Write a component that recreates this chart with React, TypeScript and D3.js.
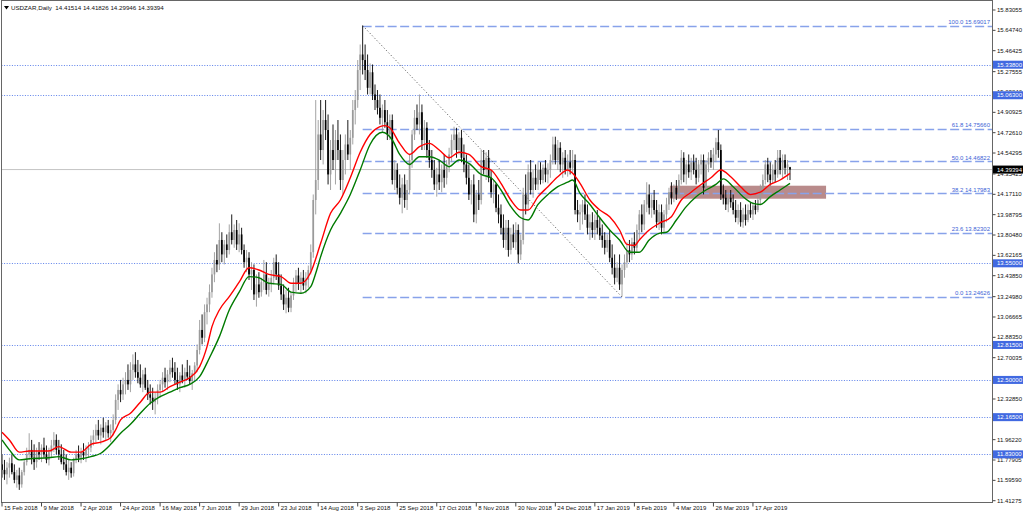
import React from 'react';
import * as d3 from 'd3';

// ---------- DATA ----------
const header = 'USDZAR,Daily  14.41514 14.41826 14.29946 14.39394';

// [open, high, low, close] per daily bar
const ohlc: [number, number, number, number][] = [
  [11.74,11.83,11.62,11.69],[11.69,11.78,11.60,11.65],[11.65,11.76,11.56,11.71],[11.71,11.80,11.62,11.75],
  [11.75,11.83,11.65,11.67],[11.67,11.74,11.57,11.60],[11.60,11.69,11.53,11.64],[11.64,11.71,11.51,11.56],
  [11.56,11.69,11.53,11.67],[11.67,11.78,11.64,11.76],[11.76,11.89,11.73,11.83],[11.83,12.02,11.78,11.87],
  [11.87,11.96,11.74,11.80],[11.80,11.92,11.69,11.76],[11.76,11.89,11.71,11.85],[11.85,11.94,11.78,11.83],
  [11.83,11.92,11.76,11.89],[11.89,11.98,11.80,11.83],[11.83,11.91,11.75,11.78],[11.78,11.89,11.73,11.85],
  [11.85,11.96,11.80,11.91],[11.91,12.03,11.85,11.96],[11.96,12.01,11.83,11.87],[11.87,11.96,11.78,11.83],
  [11.83,11.92,11.74,11.76],[11.76,11.87,11.69,11.74],[11.74,11.83,11.64,11.67],[11.67,11.78,11.60,11.71],
  [11.71,11.76,11.62,11.66],[11.66,11.80,11.63,11.78],[11.78,11.87,11.75,11.83],[11.83,11.91,11.76,11.80],
  [11.80,11.89,11.75,11.85],[11.85,11.93,11.78,11.82],[11.82,11.91,11.76,11.87],[11.87,11.94,11.80,11.89],
  [11.89,12.00,11.85,11.96],[11.96,12.05,11.91,12.00],[12.00,12.10,11.94,12.05],[12.05,12.14,11.96,12.00],
  [12.00,12.10,11.92,12.07],[12.07,12.16,11.98,12.03],[12.03,12.12,11.96,12.09],[12.09,12.14,11.98,12.02],
  [12.02,12.10,11.94,12.05],[12.05,12.19,12.00,12.14],[12.14,12.37,12.10,12.32],[12.32,12.46,12.23,12.41],
  [12.41,12.50,12.30,12.37],[12.37,12.52,12.32,12.46],[12.46,12.57,12.37,12.50],[12.50,12.64,12.41,12.46],
  [12.46,12.66,12.39,12.59],[12.59,12.73,12.50,12.64],[12.64,12.75,12.52,12.57],[12.57,12.68,12.47,12.52],
  [12.52,12.64,12.43,12.46],[12.46,12.59,12.39,12.55],[12.55,12.61,12.41,12.43],[12.43,12.50,12.32,12.37],
  [12.37,12.46,12.28,12.34],[12.34,12.43,12.23,12.30],[12.30,12.39,12.19,12.34],[12.34,12.46,12.28,12.41],
  [12.41,12.50,12.34,12.46],[12.46,12.57,12.39,12.52],[12.52,12.61,12.43,12.48],[12.48,12.59,12.41,12.55],
  [12.55,12.68,12.48,12.61],[12.61,12.70,12.52,12.57],[12.57,12.66,12.46,12.50],[12.50,12.61,12.41,12.46],
  [12.46,12.57,12.39,12.54],[12.54,12.64,12.47,12.50],[12.50,12.61,12.43,12.57],[12.57,12.68,12.50,12.53],
  [12.53,12.63,12.46,12.49],[12.49,12.59,12.41,12.56],[12.56,12.66,12.50,12.63],[12.63,12.82,12.57,12.77],
  [12.77,13.04,12.73,12.95],[12.95,13.09,12.82,12.88],[12.88,13.18,12.84,13.11],[13.11,13.24,13.00,13.18],
  [13.18,13.36,13.11,13.29],[13.29,13.51,13.24,13.45],[13.45,13.65,13.38,13.58],[13.58,13.72,13.47,13.54],
  [13.54,13.91,13.49,13.76],[13.76,13.83,13.56,13.63],[13.63,13.76,13.54,13.72],[13.72,13.81,13.60,13.67],
  [13.67,13.90,13.63,13.83],[13.83,13.99,13.72,13.76],[13.76,13.90,13.69,13.85],[13.85,13.94,13.67,13.72],
  [13.72,13.91,13.65,13.81],[13.81,13.87,13.63,13.67],[13.67,13.72,13.51,13.56],[13.56,13.67,13.47,13.60],
  [13.60,13.65,13.40,13.45],[13.45,13.56,13.31,13.49],[13.49,13.54,13.22,13.27],[13.27,13.45,13.16,13.36],
  [13.36,13.47,13.24,13.29],[13.29,13.42,13.25,13.38],[13.38,13.58,13.31,13.45],[13.45,13.56,13.27,13.31],
  [13.31,13.42,13.25,13.37],[13.37,13.49,13.29,13.42],[13.42,13.60,13.36,13.56],[13.56,13.63,13.40,13.45],
  [13.45,13.56,13.31,13.35],[13.35,13.45,13.22,13.27],[13.27,13.36,13.13,13.18],[13.18,13.31,13.10,13.24],
  [13.24,13.33,13.11,13.15],[13.15,13.29,13.11,13.26],[13.26,13.42,13.22,13.36],[13.36,13.49,13.29,13.44],
  [13.44,13.51,13.31,13.37],[13.37,13.47,13.28,13.42],[13.42,13.49,13.31,13.35],[13.35,13.47,13.28,13.40],
  [13.40,13.53,13.33,13.49],[13.49,13.72,13.45,13.65],[13.65,14.17,13.60,14.12],[14.12,15.02,13.99,14.30],
  [14.30,14.84,14.21,14.71],[14.71,15.02,14.48,14.57],[14.57,14.93,14.44,14.84],[14.84,15.02,14.66,14.75],
  [14.75,14.89,14.26,14.35],[14.35,14.66,14.21,14.57],[14.57,14.80,14.39,14.48],[14.48,14.75,14.26,14.66],
  [14.66,14.84,14.48,14.57],[14.57,14.71,14.21,14.30],[14.30,14.57,14.17,14.48],[14.48,14.71,14.35,14.62],
  [14.62,14.84,14.48,14.53],[14.53,14.75,14.39,14.68],[14.68,15.02,14.62,14.93],[14.93,15.11,14.80,15.02],
  [15.02,15.38,14.95,15.29],[15.29,15.52,15.11,15.43],[15.43,15.69,15.25,15.38],[15.38,15.52,15.20,15.29],
  [15.29,15.43,15.07,15.13],[15.13,15.35,15.07,15.27],[15.27,15.34,15.02,15.07],[15.07,15.16,14.93,15.02],
  [15.02,15.11,14.89,14.95],[14.95,15.07,14.80,14.86],[14.86,14.98,14.73,14.93],[14.93,15.02,14.77,14.82],
  [14.82,14.93,14.66,14.71],[14.71,14.89,14.66,14.84],[14.84,14.89,14.26,14.30],[14.30,14.48,14.21,14.39],
  [14.39,14.45,14.17,14.23],[14.23,14.35,14.08,14.14],[14.14,14.32,14.00,14.26],[14.26,14.35,14.05,14.12],
  [14.12,14.30,14.03,14.21],[14.21,14.53,14.17,14.48],[14.48,14.75,14.41,14.71],[14.71,14.93,14.66,14.86],
  [14.86,14.98,14.75,14.80],[14.80,15.07,14.71,14.91],[14.91,14.98,14.57,14.66],[14.66,14.84,14.57,14.77],
  [14.77,14.82,14.50,14.57],[14.57,14.66,14.41,14.48],[14.48,14.57,14.32,14.39],[14.39,14.48,14.21,14.26],
  [14.26,14.41,14.15,14.35],[14.35,14.48,14.21,14.28],[14.28,14.44,14.19,14.39],[14.39,14.53,14.23,14.32],
  [14.32,14.48,14.26,14.44],[14.44,14.59,14.37,14.53],[14.53,14.71,14.46,14.66],[14.66,14.78,14.57,14.71],
  [14.71,14.77,14.50,14.57],[14.57,14.73,14.53,14.68],[14.68,14.75,14.46,14.50],[14.50,14.62,14.37,14.44],
  [14.44,14.53,14.26,14.32],[14.32,14.44,14.12,14.17],[14.17,14.30,14.08,14.26],[14.26,14.35,13.92,13.99],
  [13.99,14.21,13.91,14.17],[14.17,14.30,14.03,14.12],[14.12,14.57,14.08,14.48],[14.48,14.57,14.35,14.39],
  [14.39,14.55,14.30,14.50],[14.50,14.57,14.28,14.32],[14.32,14.39,14.14,14.19],[14.19,14.30,14.09,14.26],
  [14.26,14.27,14.01,14.05],[14.05,14.17,13.91,13.99],[13.99,14.08,13.81,13.87],[13.87,13.99,13.69,13.76],
  [13.76,13.94,13.67,13.87],[13.87,13.94,13.61,13.67],[13.67,13.87,13.63,13.81],[13.81,13.90,13.69,13.74],
  [13.74,13.92,13.67,13.85],[13.85,13.90,13.55,13.63],[13.63,13.81,13.58,13.76],[13.76,14.23,13.72,14.17],
  [14.17,14.35,13.99,14.08],[14.08,14.44,14.03,14.37],[14.37,14.48,14.17,14.21],[14.21,14.39,14.14,14.32],
  [14.32,14.44,14.21,14.26],[14.26,14.46,14.21,14.39],[14.39,14.46,14.26,14.30],[14.30,14.44,14.27,14.41],
  [14.41,14.48,14.28,14.35],[14.35,14.45,14.27,14.39],[14.39,14.53,14.32,14.48],[14.48,14.69,14.44,14.62],
  [14.62,14.69,14.44,14.48],[14.48,14.66,14.39,14.59],[14.59,14.64,14.37,14.44],[14.44,14.55,14.32,14.50],
  [14.50,14.57,14.35,14.39],[14.39,14.53,14.33,14.46],[14.46,14.57,14.35,14.41],[14.41,14.57,14.37,14.48],
  [14.48,14.53,13.99,14.03],[14.03,14.12,13.92,13.99],[13.99,14.08,13.85,14.01],[14.01,14.12,13.90,14.08],
  [14.08,14.17,13.94,13.99],[13.99,14.08,13.81,13.87],[13.87,13.99,13.76,13.92],[13.92,14.01,13.78,13.85],
  [13.85,13.99,13.76,13.94],[13.94,14.03,13.81,13.87],[13.87,13.96,13.76,13.80],[13.80,13.90,13.69,13.76],
  [13.76,13.83,13.63,13.69],[13.69,13.81,13.65,13.76],[13.76,13.85,13.56,13.60],[13.60,13.72,13.45,13.51],
  [13.51,13.63,13.36,13.42],[13.42,13.56,13.38,13.51],[13.51,13.63,13.31,13.36],[13.36,13.54,13.25,13.49],
  [13.49,13.63,13.42,13.56],[13.56,13.74,13.51,13.67],[13.67,13.76,13.56,13.63],[13.63,13.78,13.58,13.74],
  [13.74,13.83,13.63,13.69],[13.69,13.90,13.65,13.85],[13.85,14.03,13.76,13.99],[13.99,14.08,13.83,13.90],
  [13.90,14.12,13.85,14.08],[14.08,14.28,14.01,14.17],[14.17,14.26,13.99,14.05],[14.05,14.17,13.96,14.12],
  [14.12,14.21,13.99,14.03],[14.03,14.12,13.87,13.92],[13.92,14.08,13.85,14.01],[14.01,14.08,13.81,13.87],
  [13.87,14.03,13.83,13.99],[13.99,14.14,13.92,14.08],[14.08,14.23,14.03,14.19],[14.19,14.28,14.08,14.14],
  [14.14,14.26,14.10,14.23],[14.23,14.30,14.12,14.17],[14.17,14.35,14.14,14.30],[14.30,14.57,14.26,14.50],
  [14.50,14.55,14.28,14.35],[14.35,14.48,14.26,14.44],[14.44,14.53,14.32,14.37],[14.37,14.50,14.30,14.46],
  [14.46,14.53,14.35,14.39],[14.39,14.50,14.26,14.32],[14.32,14.48,14.28,14.44],[14.44,14.53,14.35,14.48],
  [14.48,14.53,14.17,14.23],[14.23,14.48,14.19,14.44],[14.44,14.55,14.37,14.50],[14.50,14.57,14.41,14.46],
  [14.46,14.59,14.39,14.53],[14.53,14.68,14.46,14.64],[14.64,14.75,14.50,14.57],[14.57,14.62,14.12,14.17],
  [14.17,14.26,14.08,14.14],[14.14,14.21,14.03,14.08],[14.08,14.19,14.01,14.14],[14.14,14.21,14.05,14.10],
  [14.10,14.17,13.99,14.03],[14.03,14.12,13.92,13.96],[13.96,14.08,13.90,14.03],[14.03,14.10,13.88,13.92],
  [13.92,14.05,13.87,13.99],[13.99,14.08,13.89,13.94],[13.94,14.08,13.92,14.03],[14.03,14.10,13.96,13.99],
  [13.99,14.10,13.94,14.07],[14.07,14.12,13.99,14.03],[14.03,14.14,14.01,14.12],[14.12,14.26,14.08,14.21],
  [14.21,14.35,14.17,14.30],[14.30,14.48,14.26,14.44],[14.44,14.50,14.28,14.35],[14.35,14.46,14.25,14.30],
  [14.30,14.44,14.27,14.39],[14.39,14.48,14.28,14.35],[14.35,14.57,14.32,14.50],[14.50,14.57,14.35,14.39],
  [14.39,14.53,14.32,14.48],[14.48,14.53,14.35,14.41],[14.41,14.48,14.30,14.44],[14.41514,14.41826,14.29946,14.39394],
];

// moving averages: [bar index, price]
const maFast: [number, number][] = [
  [0,12.03],[3,11.96],[7,11.85],[11,11.86],[19,11.86],[23,11.90],[28,11.85],[32,11.85],[36,11.92],[40,11.94],
  [44,11.98],[46,12.05],[48,12.14],[52,12.20],[56,12.30],[60,12.39],[64,12.39],[68,12.44],[72,12.48],[76,12.52],
  [80,12.62],[83,12.80],[85,12.98],[88,13.13],[92,13.25],[96,13.38],[100,13.51],[104,13.49],[108,13.45],[113,13.43],
  [117,13.37],[121,13.37],[125,13.47],[129,13.73],[133,14.00],[137,14.12],[141,14.32],[145,14.55],[149,14.71],[153,14.78],
  [155,14.79],[157,14.77],[161,14.63],[165,14.53],[169,14.60],[173,14.63],[177,14.57],[181,14.50],[185,14.55],[189,14.53],
  [194,14.42],[198,14.39],[202,14.27],[206,14.12],[210,14.03],[213,14.03],[217,14.15],[221,14.24],[225,14.33],[229,14.39],
  [231,14.36],[234,14.27],[238,14.12],[242,14.03],[246,13.97],[250,13.85],[253,13.72],[256,13.71],[258,13.76],[262,13.85],
  [266,13.91],[271,13.97],[275,14.12],[279,14.19],[283,14.26],[287,14.32],[291,14.39],[295,14.33],[299,14.24],[303,14.17],
  [307,14.19],[311,14.26],[315,14.30],[319,14.36],
];
const maSlow: [number, number][] = [
  [0,11.96],[3,11.87],[7,11.78],[11,11.79],[19,11.80],[23,11.81],[28,11.78],[32,11.79],[36,11.81],[40,11.84],
  [44,11.92],[48,12.02],[52,12.10],[56,12.20],[60,12.29],[64,12.35],[68,12.39],[72,12.43],[76,12.46],[80,12.53],
  [84,12.70],[88,12.89],[92,13.13],[96,13.29],[100,13.43],[104,13.42],[108,13.37],[113,13.36],[117,13.29],[121,13.28],
  [125,13.34],[127,13.46],[129,13.61],[133,13.85],[137,14.00],[141,14.17],[145,14.39],[149,14.62],[154,14.73],[158,14.66],
  [161,14.53],[165,14.44],[169,14.51],[173,14.51],[177,14.48],[181,14.42],[185,14.48],[189,14.45],[194,14.35],[198,14.32],
  [202,14.21],[206,14.06],[210,13.96],[213,13.94],[217,14.08],[221,14.17],[225,14.24],[229,14.28],[231,14.30],[234,14.18],
  [238,14.08],[242,13.96],[246,13.85],[250,13.76],[254,13.65],[258,13.65],[262,13.76],[266,13.82],[269,13.83],[273,13.94],
  [277,14.06],[281,14.15],[285,14.21],[289,14.26],[292,14.31],[296,14.24],[300,14.15],[304,14.09],[307,14.08],[311,14.15],
  [315,14.21],[319,14.27],
];

const dateLabels = ['15 Feb 2018','9 Mar 2018','2 Apr 2018','24 Apr 2018','16 May 2018','7 Jun 2018','29 Jun 2018',
  '23 Jul 2018','14 Aug 2018','3 Sep 2018','25 Sep 2018','17 Oct 2018','8 Nov 2018','30 Nov 2018','24 Dec 2018',
  '17 Jan 2019','8 Feb 2019','4 Mar 2019','26 Mar 2019','17 Apr 2019'];
const dateBars = [0,16,32,48,64,80,96,112,128,144,160,176,192,208,224,240,256,272,288,304];

const priceTicks = [15.83055,15.64740,15.46425,15.27555,15.09240,14.90925,14.72610,14.54295,14.35425,14.17110,
  13.98795,13.80480,13.62165,13.43850,13.24980,13.06665,12.88350,12.70035,12.51720,12.32850,12.14535,11.96220,
  11.77905,11.59590,11.41275];

const hLevels = [15.338, 15.063, 13.55, 12.815, 12.5, 12.165, 11.83];
const hLevelLabels = ['15.33800','15.06300','13.55000','12.81500','12.50000','12.16500','11.83000'];

const fibRatios = ['100.0','61.8','50.0','38.2','23.6','0.0'];
const fibPrices = [15.69017,14.75660,14.46822,14.17983,13.82302,13.24626];
const fibAnchorBars = [146, 251];

const zoneBars = [270.4, 333.6];
const zonePrices = [14.2486, 14.1316];

const lastPrice = 14.39394;

// ---------- CHART ----------
const W = 1024, H = 515;
const L = 1.5, R = 992.5, T = 0.5, B = 502.5;
const FONT = '"Liberation Sans", Arial, sans-serif';

export default function App() {
  const x = d3.scaleLinear().domain([0, 319]).range([2, 790]);
  const y = d3.scaleLinear().domain([11.41275, 15.83055]).range([500.7, 10]);
  const ma = d3.line<[number, number]>().x(d => x(d[0])).y(d => y(d[1])).curve(d3.curveMonotoneX);
  const bw = 1.7;
  const boxTop = (p: number) => y(p) - 4;
  const boxes = [...hLevels, lastPrice];

  return (
    <svg width={W} height={H} style={{ position: 'absolute', left: 0, top: 0, background: '#fff' }}
      fontFamily={FONT}>
      <defs>
        <clipPath id="plot"><rect x={L} y={T} width={R - L} height={B - T} /></clipPath>
        <clipPath id="axisFree">
          {/* area of the price scale not covered by highlighted labels */}
          <path clipRule="evenodd" fillRule="evenodd"
            d={`M${R},0 H${W} V${H} H${R} Z ` + boxes.map(p => `M993,${boxTop(p)} h30 v8 h-30 Z`).join(' ')} />
        </clipPath>
      </defs>
      <rect x={0} y={0} width={W} height={H} fill="#fff" />
      <g clipPath="url(#plot)">
        {/* zone rectangle */}
        <rect x={x(zoneBars[0])} y={y(zonePrices[0])} width={x(zoneBars[1]) - x(zoneBars[0])}
          height={y(zonePrices[1]) - y(zonePrices[0])} fill="#b98b8b" />
        {/* horizontal dotted levels */}
        {hLevels.map((p, i) => (
          <line key={'h' + i} x1={L} x2={R} y1={Math.round(y(p)) + 0.5} y2={Math.round(y(p)) + 0.5}
            stroke="#5d80ea" strokeWidth={1} strokeDasharray="1 1.6" />
        ))}
        {/* fib levels */}
        {fibPrices.map((p, i) => (
          <g key={'f' + i}>
            <line x1={x(fibAnchorBars[0])} x2={R} y1={Math.round(y(p)) + 0.5} y2={Math.round(y(p)) + 0.5}
              stroke="#88a2ea" strokeWidth={1.3} strokeDasharray="9 3.5" />
            <text x={990} y={y(p) - 1.8} textAnchor="end" fontSize={6} fill="#3c63d6">
              {fibRatios[i] + ' ' + p.toFixed(5)}
            </text>
          </g>
        ))}
        {/* current price line */}
        <line x1={L} x2={R} y1={y(lastPrice)} y2={y(lastPrice)} stroke="#c4c4c4" strokeWidth={1} />
        {/* candles */}
        {ohlc.map((d, i) => {
          const [o, h, l, c] = d;
          const up = c >= o;
          const col = up ? '#9a9a9a' : '#000';
          const cx = x(i);
          const top = y(Math.max(o, c)), bot = y(Math.min(o, c));
          return (
            <g key={'c' + i}>
              <line x1={cx} x2={cx} y1={y(h)} y2={y(l)} stroke={col} strokeWidth={0.9} />
              <rect x={cx - bw / 2} y={top} width={bw} height={Math.max(0.8, bot - top)} fill={col} />
            </g>
          );
        })}
        {/* moving averages */}
        <path d={ma(maSlow) || ''} fill="none" stroke="#007a00" strokeWidth={1.4} />
        <path d={ma(maFast) || ''} fill="none" stroke="#ff0000" strokeWidth={1.4} />
        {/* fib diagonal */}
        <line x1={x(fibAnchorBars[0])} y1={y(fibPrices[0])} x2={x(fibAnchorBars[1])} y2={y(fibPrices[5])}
          stroke="#555" strokeWidth={0.9} strokeDasharray="1.2 2.2" />
      </g>
      {/* frame */}
      <rect x={L} y={T} width={R - L} height={B - T} fill="none" stroke="#666" strokeWidth={1} />
      {/* header */}
      <path d="M4,6 L9,6 L6.5,9.5 Z" fill="#000" />
      <text x={11} y={10} fontSize={6.2} fill="#111" xmlSpace="preserve">{header}</text>
      {/* right axis ticks (partly hidden under highlighted labels, as in MT4) */}
      <g clipPath="url(#axisFree)">
        {priceTicks.map((p, i) => (
          <g key={'t' + i}>
            <line x1={R} x2={R + 3} y1={y(p)} y2={y(p)} stroke="#444" />
            <text x={997} y={y(p)} dy="0.35em" fontSize={6} fill="#111">{p.toFixed(5)}</text>
          </g>
        ))}
      </g>
      {/* level labels */}
      {hLevels.map((p, i) => (
        <g key={'hl' + i}>
          <rect x={993} y={boxTop(p)} width={30} height={8} fill="#4169e1" />
          <text x={997} y={y(p)} dy="0.35em" fontSize={6} fill="#fff">{hLevelLabels[i]}</text>
        </g>
      ))}
      <rect x={993} y={boxTop(lastPrice)} width={30} height={8} fill="#000" />
      <text x={997} y={y(lastPrice)} dy="0.35em" fontSize={6} fill="#fff">{lastPrice.toFixed(5)}</text>
      {/* date axis */}
      {dateBars.map((b, i) => (
        <g key={'d' + i}>
          <line x1={x(b)} x2={x(b)} y1={B} y2={B + 4} stroke="#444" />
          <text x={x(b) + 2} y={510} fontSize={6} fill="#111">{dateLabels[i]}</text>
        </g>
      ))}
    </svg>
  );
}
